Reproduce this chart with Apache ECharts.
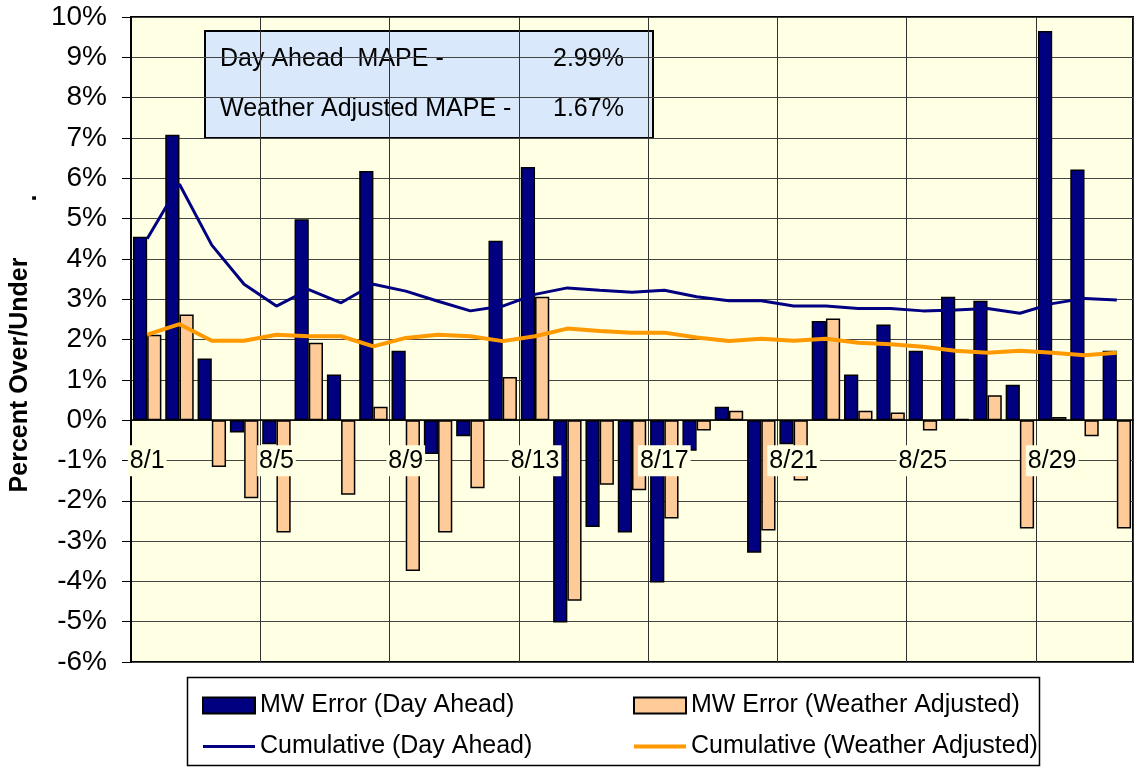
<!DOCTYPE html>
<html>
<head>
<meta charset="utf-8">
<script src="https://cdn.jsdelivr.net/npm/echarts@6/dist/echarts.min.js"></script>
<style>
  html, body { margin: 0; padding: 0; background: #fff; }
  #chart { width: 1135px; height: 771px; }
</style>
</head>
<body>
<div id="chart"></div>
<script>
// days of August
const days = [];
for (let d = 1; d <= 31; d++) days.push('8/' + d);

// daily MW error, percent
const dayAhead = [4.55, 7.08, 1.53, -0.31, -0.6, 4.98, 1.13, 6.18, 1.72, -0.84,
  -0.40, 4.45, 6.28, -5.02, -2.65, -2.79, -4.03, -0.76, 0.33, -3.29,
  -0.6, 2.46, 1.13, 2.37, 1.72, 3.06, 2.96, 0.88, 9.65, 6.22, 1.72];
const weatherAdj = [2.12, 2.62, -1.16, -1.94, -2.79, 1.92, -1.85, 0.33, -3.74, -2.79,
  -1.69, 1.07, 3.06, -4.48, -1.60, -1.74, -2.44, -0.26, 0.23, -2.74,
  -1.50, 2.52, 0.23, 0.19, -0.26, 0.03, 0.62, -2.69, 0.08, -0.40, -2.69];

// cumulative MAPE lines
const cumDayAhead = [4.50, 5.85, 4.34, 3.37, 2.83, 3.24, 2.91, 3.37, 3.20, 2.95,
  2.71, 2.83, 3.12, 3.28, 3.22, 3.17, 3.22, 3.06, 2.96, 2.96,
  2.83, 2.83, 2.77, 2.77, 2.71, 2.73, 2.77, 2.65, 2.89, 3.02, 2.98];
const cumWeatherAdj = [2.12, 2.38, 1.97, 1.97, 2.12, 2.08, 2.08, 1.83, 2.04, 2.12,
  2.08, 1.96, 2.08, 2.27, 2.21, 2.17, 2.17, 2.05, 1.96, 2.02,
  1.97, 2.02, 1.92, 1.88, 1.82, 1.72, 1.67, 1.72, 1.67, 1.61, 1.67];

const mapeLabels = ['Day Ahead  MAPE -', 'Weather Adjusted MAPE -'];
const mapeValues = ['2.99%', '1.67%'];

const yMin = -6, yMax = 10;
const FONT = 'Liberation Sans, Arial, sans-serif';
const gridTop = 17, gridBottom = 109, chartH = 771;
const plotH = chartH - gridTop - gridBottom;
// move the labelled category axis up to the 0% line
const zeroOffset = -plotH * (0 - yMin) / (yMax - yMin);

const chart = echarts.init(document.getElementById('chart'));

const legendText = { fontSize: 25, color: '#000', fontFamily: FONT };
// plain line icons for the cumulative series (invisible moves set the 52x16 box)
const navyLineIcon = 'path://M0,0M52,16M0,6.5L52,6.5L52,9.5L0,9.5Z';
const orangeLineIcon = 'path://M0,0M52,16M0,6L52,6L52,10L0,10Z';

const option = {
  backgroundColor: '#ffffff',
  textStyle: { fontFamily: FONT },
  grid: {
    left: 131, right: 2, top: gridTop, bottom: gridBottom,
    show: true,
    backgroundColor: '#ffffe3',
    borderColor: '#000',
    borderWidth: 2
  },
  legend: [
    {
      left: 197, top: 688, orient: 'vertical',
      itemWidth: 52, itemHeight: 16, itemGap: 16,
      textStyle: legendText,
      data: [
        { name: 'MW Error (Day Ahead)', icon: 'rect' },
        { name: 'Cumulative (Day Ahead)', icon: navyLineIcon,
          itemStyle: { color: '#000080', borderWidth: 0 } }
      ]
    },
    {
      left: 628, top: 688, orient: 'vertical',
      itemWidth: 52, itemHeight: 16, itemGap: 16,
      textStyle: legendText,
      data: [
        { name: 'MW Error (Weather Adjusted)', icon: 'rect' },
        { name: 'Cumulative (Weather Adjusted)', icon: orangeLineIcon,
          itemStyle: { color: '#ff9900', borderWidth: 0 } }
      ]
    }
  ],
  xAxis: [
    {
      // vertical gridlines, behind the bars
      type: 'category',
      data: days,
      boundaryGap: true,
      axisLine: { show: false },
      axisTick: { show: false },
      axisLabel: { show: false },
      splitLine: { show: true, interval: 3, lineStyle: { color: '#333', width: 1 } }
    },
    {
      // labelled axis on the 0% line, drawn over the bars
      type: 'category',
      data: days,
      boundaryGap: true,
      position: 'bottom',
      offset: zeroOffset,
      z: 10,
      axisLine: { onZero: false, lineStyle: { color: '#000', width: 1.5 } },
      axisTick: { interval: 3, length: 7, lineStyle: { color: '#000' } },
      axisLabel: {
        interval: 3, margin: 25, fontSize: 25, color: '#000',
        backgroundColor: '#ffffe3', padding: [3, 2]
      },
      splitLine: { show: false }
    }
  ],
  yAxis: {
    type: 'value',
    min: yMin, max: yMax, interval: 1,
    axisLine: { show: true, lineStyle: { color: '#000', width: 2 } },
    axisTick: { show: true, length: 9, lineStyle: { color: '#000' } },
    axisLabel: { formatter: '{value}%', fontSize: 28, color: '#000', margin: 24 },
    splitLine: { show: true, lineStyle: { color: '#444', width: 1 } }
  },
  series: [
    {
      name: 'MW Error (Day Ahead)', type: 'bar', data: dayAhead,
      barGap: '0%', barCategoryGap: '12%',
      itemStyle: { color: '#000080', borderColor: '#000', borderWidth: 1.5 },
      z: 2
    },
    {
      name: 'MW Error (Weather Adjusted)', type: 'bar', data: weatherAdj,
      itemStyle: { color: '#ffcc99', borderColor: '#000', borderWidth: 1.5 },
      z: 2
    },
    {
      name: 'Cumulative (Day Ahead)', type: 'line', data: cumDayAhead,
      symbol: 'none', showSymbol: false, lineStyle: { color: '#000080', width: 3 },
      itemStyle: { color: '#000080' }, z: 3
    },
    {
      name: 'Cumulative (Weather Adjusted)', type: 'line', data: cumWeatherAdj,
      symbol: 'none', showSymbol: false, lineStyle: { color: '#ff9900', width: 4 },
      itemStyle: { color: '#ff9900' }, z: 3
    }
  ],
  graphic: [
    // MAPE box
    {
      type: 'group', left: 204, top: 30, z: 100,
      children: [
        { type: 'rect', shape: { x: 0, y: 0, width: 448, height: 107 },
          style: { fill: '#d9e9fb', stroke: '#000', lineWidth: 2 } },
        { type: 'text', x: 15, y: 28, style: { text: mapeLabels[0], font: '25px ' + FONT, fill: '#000', textVerticalAlign: 'middle' } },
        { type: 'text', x: 348, y: 28, style: { text: mapeValues[0], font: '25px ' + FONT, fill: '#000', textVerticalAlign: 'middle' } },
        { type: 'text', x: 15, y: 78, style: { text: mapeLabels[1], font: '25px ' + FONT, fill: '#000', textVerticalAlign: 'middle' } },
        { type: 'text', x: 348, y: 78, style: { text: mapeValues[1], font: '25px ' + FONT, fill: '#000', textVerticalAlign: 'middle' } }
      ]
    },
    // legend frame
    {
      type: 'rect', left: 185, top: 675, z: 50,
      shape: { width: 852, height: 88 },
      style: { fill: 'none', stroke: '#000', lineWidth: 1.5 }
    },
    // y axis title
    {
      type: 'text', x: 20, y: 375, rotation: Math.PI / 2, z: 50,
      style: { text: 'Percent Over/Under', font: 'bold 25px ' + FONT, fill: '#000',
        textAlign: 'center', textVerticalAlign: 'middle' }
    },
    {
      type: 'text', x: 29, y: 198, rotation: Math.PI / 2, z: 50,
      style: { text: '.', font: 'bold 25px ' + FONT, fill: '#000',
        textAlign: 'center', textVerticalAlign: 'middle' }
    }
  ]
};

chart.setOption(option);
</script>
</body>
</html>
